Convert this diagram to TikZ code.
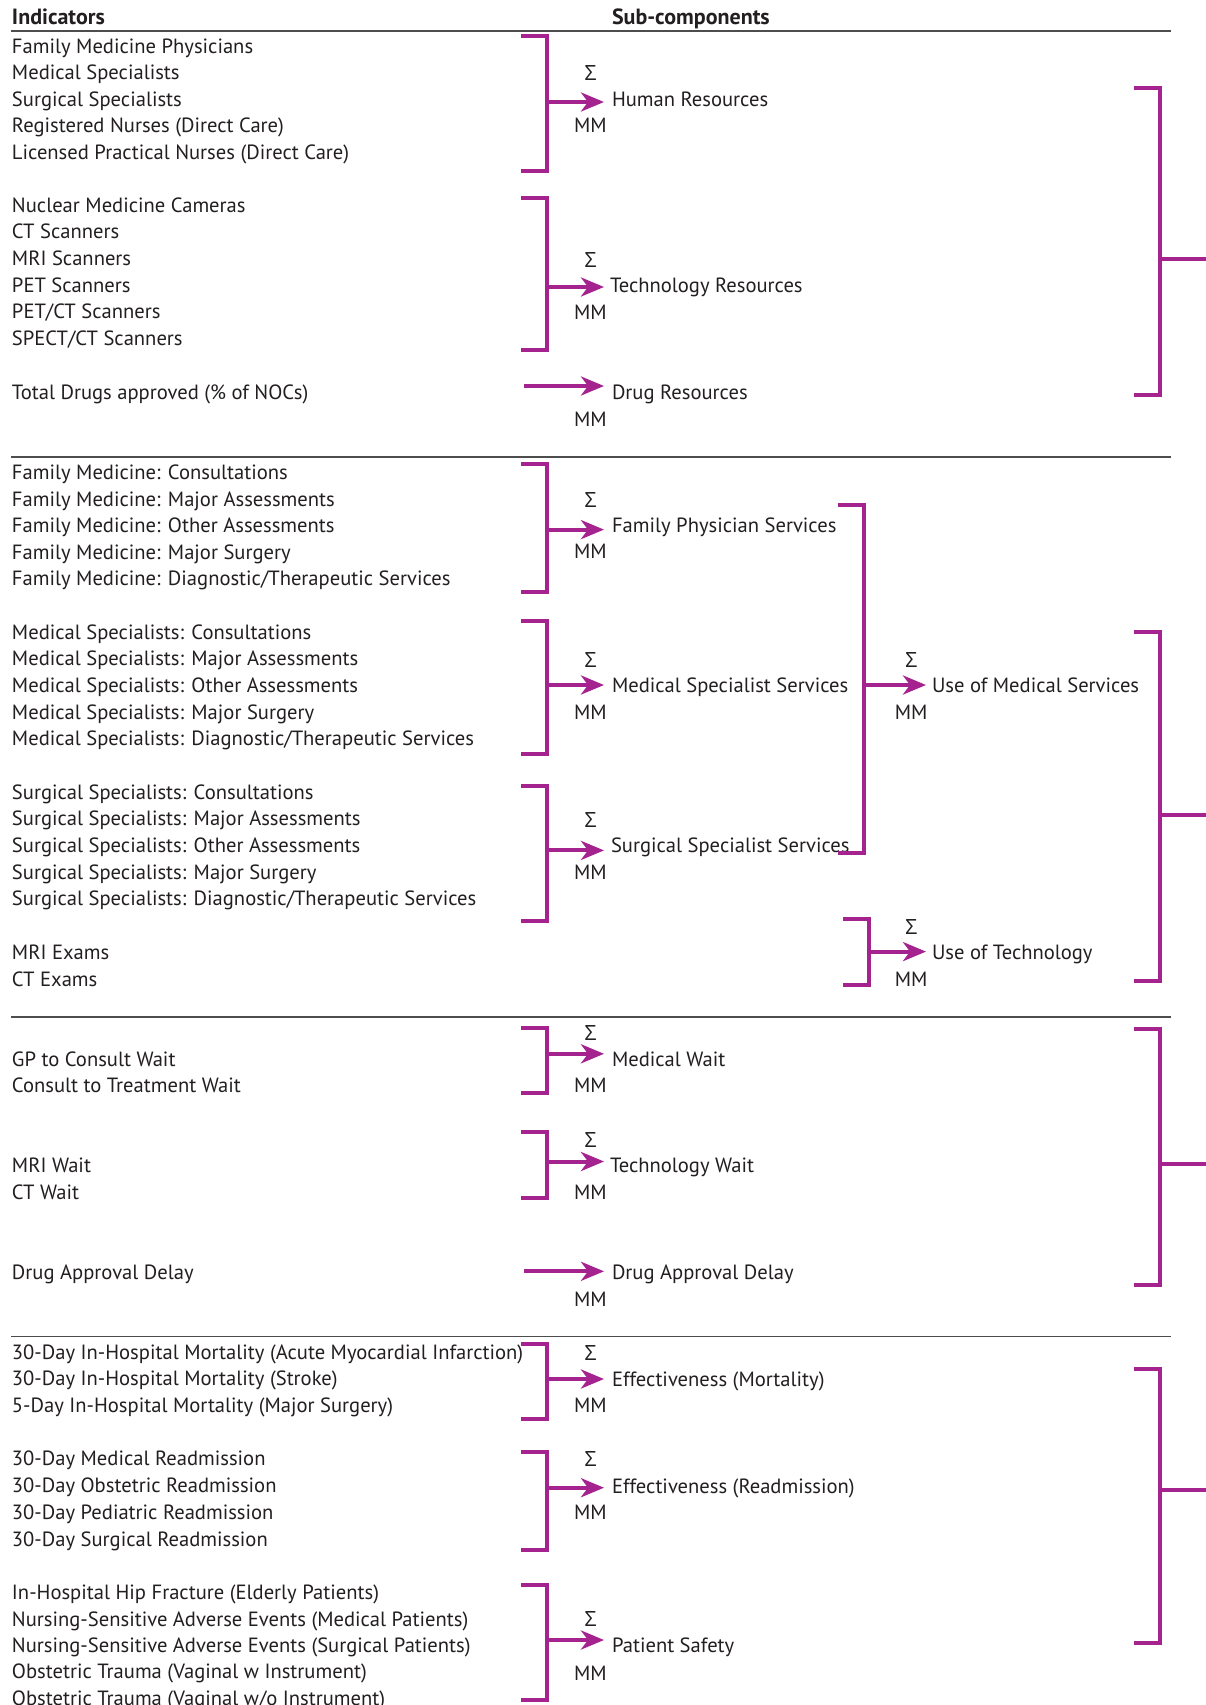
\documentclass[tikz,border=0pt]{standalone}
\usepackage{fontspec}
\setmainfont{PT Sans}
\newfontfamily\sigfont{Open Sans}
\usetikzlibrary{arrows.meta}
\definecolor{pur}{HTML}{A4238F}
\definecolor{txt}{HTML}{231F20}
\definecolor{rulec}{HTML}{4D4D4D}
\tikzset{
  every node/.style={inner sep=0pt, outer sep=0pt, text=txt},
  ind/.style={anchor=west, text height=15pt, text depth=0pt},
  hdr/.style={anchor=west, text height=15pt, text depth=0pt, font=\fontsize{22}{26}\selectfont\bfseries},
  sig/.style={anchor=center, text height=15pt, text depth=0pt, font=\fontsize{21}{25}\selectfont\sigfont},
  brk/.style={draw=pur, line width=4pt, line join=miter, line cap=butt},
  arr/.style={draw=pur, line width=4pt, -{Stealth[length=23pt,width=19pt,inset=7pt]}},
  sepline/.style={draw=rulec, line width=1.5pt},
}
% bracket: name, x of vertical, top y, bottom y, arrow y, arrow end x
\newcommand\Bkt[6]{%
  \coordinate (#1-t0) at ({#2-26},#3);
  \coordinate (#1-t1) at (#2,#3);
  \coordinate (#1-b1) at (#2,#4);
  \coordinate (#1-b0) at ({#2-26},#4);
  \coordinate (#1-m) at ({#2-2},#5);
  \coordinate (#1-e) at (#6,#5);
  \draw[brk] (#1-t0) -- (#1-t1) -- (#1-b1) -- (#1-b0);
  \draw[arr] (#1-m) -- (#1-e);
}
% big bracket with stub to the right edge: name, top y, bottom y, stub y
\newcommand\BigBkt[4]{%
  \coordinate (#1-t0) at (1134,#2);
  \coordinate (#1-t1) at (1160,#2);
  \coordinate (#1-b1) at (1160,#3);
  \coordinate (#1-b0) at (1134,#3);
  \coordinate (#1-m) at (1160,#4);
  \coordinate (#1-e) at (1220,#4);
  \draw[brk] (#1-t0) -- (#1-t1) -- (#1-b1) -- (#1-b0);
  \draw[brk] (#1-m) -- (#1-e);
}
% labels: name, x label, x sigma centre, y sigma, y label, y MM, text
\newcommand\Lab[7]{%
  \node[sig] (#1-s) at (#3,#4) {Σ};
  \node[ind] (#1-l) at (#2,#5) {#7};
  \node[ind] (#1-mm) at ({#3-16.5},#6) {MM};
}
\begin{document}
\begin{tikzpicture}[x=1pt,y=-1pt,font=\fontsize{20.6}{25}\selectfont]
\useasboundingbox (0,0) rectangle (1206,1705);
\clip (0,0) rectangle (1206,1705);
\fill[white] (0,0) rectangle (1206,1705);

% headers
\node[hdr] (hind) at (12,17.4) {Indicators};
\node[hdr] (hsub) at (612,17.4) {Sub-components};
\draw[sepline] (11,31) -- (1171,31);
\draw[sepline] (11,456.8) -- (1171,456.8);
\draw[sepline] (11,1016.8) -- (1171,1016.8);
\draw[sepline] (11,1336.5) -- (1171,1336.5);

% ---------- section 1 ----------
\foreach \t [count=\i from 0] in {Family Medicine Physicians, Medical Specialists, Surgical Specialists, Registered Nurses (Direct Care), Licensed Practical Nurses (Direct Care)}
  \node[ind] (hr\i) at (12,{45.7+26.55*\i}) {\t};
\foreach \t [count=\i from 0] in {Nuclear Medicine Cameras, CT Scanners, MRI Scanners, PET Scanners, PET/CT Scanners, SPECT/CT Scanners}
  \node[ind] (tr\i) at (12,{204.5+26.7*\i}) {\t};
\node[ind] (dr0) at (12,391.5) {Total Drugs approved (\% of NOCs)};

\Bkt{bhr}{547}{36}{170.5}{102}{604}
\Lab{hr}{612}{590.5}{72.9}{99}{125}{Human Resources}
\Bkt{btr}{547}{198}{350}{287}{604}
\Lab{tr}{610}{590.5}{260}{285}{312}{Technology Resources}
\coordinate (bdr-s) at (524,386);
\coordinate (bdr-e) at (604,386);
\draw[arr] (bdr-s) -- (bdr-e);
\node[ind] (dr-l) at (612,391.5) {Drug Resources};
\node[ind] (dr-mm) at (574,418.7) {MM};
\BigBkt{g1}{88}{394.8}{258.8}

% ---------- section 2 ----------
\foreach \t [count=\i from 0] in {Family Medicine: Consultations, Family Medicine: Major Assessments, Family Medicine: Other Assessments, Family Medicine: Major Surgery, Family Medicine: Diagnostic/Therapeutic Services}
  \node[ind] (fm\i) at (12,{472+26.6*\i}) {\t};
\foreach \t [count=\i from 0] in {Medical Specialists: Consultations, Medical Specialists: Major Assessments, Medical Specialists: Other Assessments, Medical Specialists: Major Surgery, Medical Specialists: Diagnostic/Therapeutic Services}
  \node[ind] (ms\i) at (12,{631.8+26.6*\i}) {\t};
\foreach \t [count=\i from 0] in {Surgical Specialists: Consultations, Surgical Specialists: Major Assessments, Surgical Specialists: Other Assessments, Surgical Specialists: Major Surgery, Surgical Specialists: Diagnostic/Therapeutic Services}
  \node[ind] (ss\i) at (12,{791.7+26.6*\i}) {\t};
\node[ind] (ut0) at (12,951.6) {MRI Exams};
\node[ind] (ut1) at (12,978.75) {CT Exams};

\Bkt{bfm}{547}{464.4}{591.6}{529.6}{604}
\Lab{fm}{612}{590.5}{500.3}{525.3}{551.4}{Family Physician Services}
\Bkt{bms}{547}{621}{753.6}{685}{604}
\Lab{ms}{612}{590.5}{660}{685}{712.3}{Medical Specialist Services}
\Bkt{bss}{547}{786.3}{921}{850.4}{604}
\Lab{ss}{611}{590.5}{820}{845}{872.2}{Surgical Specialist Services}
\Bkt{bum}{863.5}{504.6}{852.6}{685}{926}
\Lab{um}{932}{911.3}{660}{685}{712.3}{Use of Medical Services}
\Bkt{but}{869}{919}{985.3}{951.6}{926}
\Lab{ut}{932}{911.3}{926.5}{951.6}{978.75}{Use of Technology}
\BigBkt{g2}{631.8}{981}{814.5}

% ---------- section 3 ----------
\node[ind] (mw0) at (12,1059.2) {GP to Consult Wait};
\node[ind] (mw1) at (12,1085.3) {Consult to Treatment Wait};
\node[ind] (tw0) at (12,1164.7) {MRI Wait};
\node[ind] (tw1) at (12,1191.9) {CT Wait};
\node[ind] (da0) at (12,1272.4) {Drug Approval Delay};

\Bkt{bmw}{547}{1027.7}{1093}{1053.8}{604}
\Lab{mw}{612}{590.5}{1033}{1059.2}{1085.3}{Medical Wait}
\Bkt{btw}{547}{1132}{1198.4}{1161.5}{604}
\Lab{tw}{610}{590.5}{1139.7}{1164.7}{1191.9}{Technology Wait}
\coordinate (bda-s) at (524,1271.3);
\coordinate (bda-e) at (604,1271.3);
\draw[arr] (bda-s) -- (bda-e);
\node[ind] (da-l) at (612,1272.4) {Drug Approval Delay};
\node[ind] (da-mm) at (574,1298.5) {MM};
\BigBkt{g3}{1028.8}{1285.4}{1163.6}

% ---------- section 4 ----------
\foreach \t [count=\i from 0] in {30-Day In-Hospital Mortality (Acute Myocardial Infarction), 30-Day In-Hospital Mortality (Stroke), 5-Day In-Hospital Mortality (Major Surgery)}
  \node[ind] (em\i) at (12,{1351.8+26.6*\i}) {\t};
\foreach \t [count=\i from 0] in {30-Day Medical Readmission, 30-Day Obstetric Readmission, 30-Day Pediatric Readmission, 30-Day Surgical Readmission}
  \node[ind] (er\i) at (12,{1458.3+26.8*\i}) {\t};
\foreach \t [count=\i from 0] in {In-Hospital Hip Fracture (Elderly Patients), Nursing-Sensitive Adverse Events (Medical Patients), Nursing-Sensitive Adverse Events (Surgical Patients), Obstetric Trauma (Vaginal w Instrument), Obstetric Trauma (Vaginal w/o Instrument)}
  \node[ind] (ps\i) at (12,{1592.1+26.4*\i}) {\t};

\Bkt{bem}{547}{1344.2}{1419.2}{1379}{604}
\Lab{em}{612}{590.5}{1352.9}{1379}{1405}{Effectiveness (Mortality)}
\Bkt{ber}{547}{1451.8}{1549.7}{1487.7}{604}
\Lab{er}{612}{590.5}{1459.4}{1485.5}{1511.6}{Effectiveness (Readmission)}
\Bkt{bps}{547}{1584.5}{1700}{1640}{604}
\Lab{ps}{612}{590.5}{1619.3}{1645.4}{1672.6}{Patient Safety}
\BigBkt{g4}{1369}{1643.2}{1490}
\end{tikzpicture}
\end{document}
